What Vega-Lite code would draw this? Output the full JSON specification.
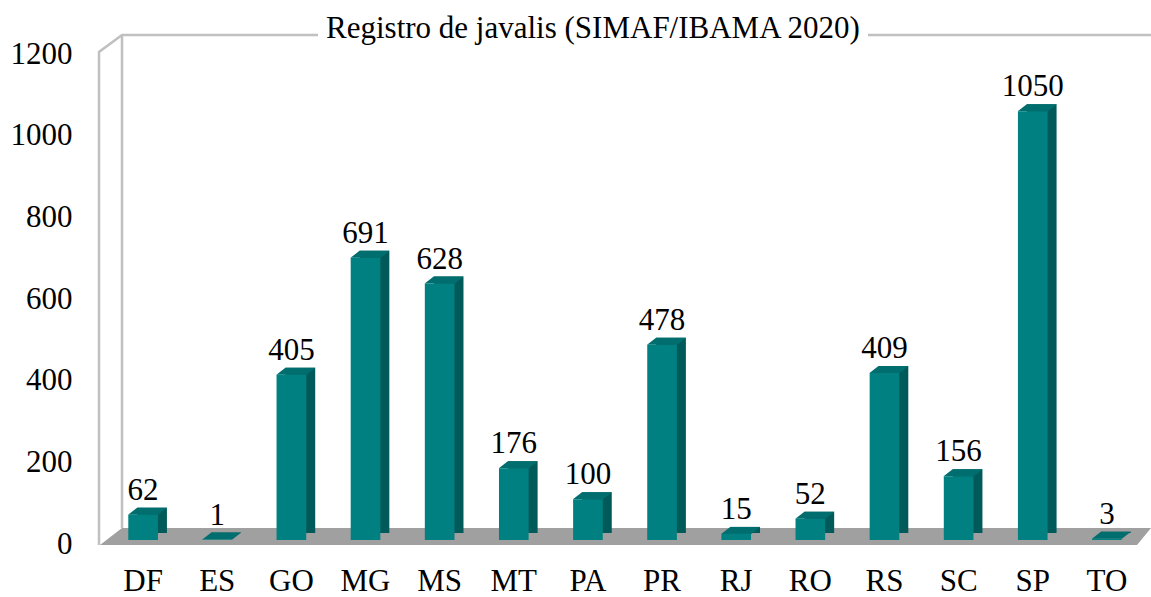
{
  "$schema": "https://vega.github.io/schema/vega-lite/v6.json",
  "width": 1052,
  "height": 490,
  "autosize": {"type": "none"},
  "padding": {"left": 99, "top": 50, "right": 0, "bottom": 57},
  "background": "white",
  "config": {
    "font": "Liberation Serif",
    "view": {"stroke": null}
  },
  "data": {
    "values": [
      {"estado": "DF", "registros": 62},
      {"estado": "ES", "registros": 1},
      {"estado": "GO", "registros": 405},
      {"estado": "MG", "registros": 691},
      {"estado": "MS", "registros": 628},
      {"estado": "MT", "registros": 176},
      {"estado": "PA", "registros": 100},
      {"estado": "PR", "registros": 478},
      {"estado": "RJ", "registros": 15},
      {"estado": "RO", "registros": 52},
      {"estado": "RS", "registros": 409},
      {"estado": "SC", "registros": 156},
      {"estado": "SP", "registros": 1050},
      {"estado": "TO", "registros": 3}
    ]
  },
  "layer": [
    {
      "data": {"values": [{}]},
      "mark": {
        "type": "point",
        "shape": "M -526 5 L -526 -488 L -503 -505 L -307 -505 M 243 -505 L 526 -505 M -503 -505 L -503 -12",
        "size": 4,
        "filled": false,
        "stroke": "#c0c0c0",
        "strokeWidth": 2.5,
        "opacity": 1
      },
      "encoding": {"y": {"datum": 0, "type": "quantitative"}}
    },
    {
      "data": {"values": [{}]},
      "mark": {
        "type": "point",
        "shape": "M -525 5 L 512 5 L 526 -12 L -503 -12 Z",
        "size": 4,
        "filled": true,
        "fill": "#a0a0a0",
        "strokeWidth": 0,
        "opacity": 1
      },
      "encoding": {"y": {"datum": 0, "type": "quantitative"}}
    },
    {
      "data": {"values": [{"titulo": "Registro de javalis (SIMAF/IBAMA 2020)"}]},
      "mark": {"type": "text", "fontSize": 31, "color": "black", "baseline": "alphabetic", "align": "center", "dx": -32, "dy": -12},
      "encoding": {
        "y": {"datum": 1200, "type": "quantitative"},
        "text": {"field": "titulo", "type": "nominal"}
      }
    },
    {
      "mark": {"type": "bar", "color": "#005a5a", "xOffset": 9, "x2Offset": 9, "yOffset": -7, "y2Offset": -7},
      "encoding": {
        "x": {"field": "estado", "type": "nominal"},
        "y": {"field": "registros", "type": "quantitative"}
      }
    },
    {
      "mark": {
        "type": "point",
        "shape": "M -15 0 L -6 -7 L 24 -7 L 15 0 Z",
        "size": 4,
        "filled": true,
        "fill": "#006e6e",
        "strokeWidth": 0,
        "opacity": 1
      },
      "encoding": {
        "x": {"field": "estado", "type": "nominal"},
        "y": {"field": "registros", "type": "quantitative"}
      }
    },
    {
      "mark": {"type": "bar", "color": "#008080"},
      "encoding": {
        "x": {
          "field": "estado",
          "type": "nominal",
          "sort": null,
          "scale": {"paddingInner": 0.6, "paddingOuter": 0.395},
          "axis": {
            "title": null,
            "labelAngle": 0,
            "labelFontSize": 31,
            "labelColor": "black",
            "labelBaseline": "alphabetic",
            "labelPadding": 50,
            "bandPosition": 0.5,
            "labelAlign": "center",
            "domain": false,
            "ticks": false
          }
        },
        "y": {
          "field": "registros",
          "type": "quantitative",
          "scale": {"domain": [0, 1200], "nice": false},
          "axis": {
            "title": null,
            "values": [0, 200, 400, 600, 800, 1000, 1200],
            "format": "d",
            "grid": false,
            "domain": false,
            "ticks": false,
            "labelFontSize": 31,
            "labelColor": "black",
            "labelPadding": 27,
            "labelOffset": 4
          }
        }
      }
    },
    {
      "mark": {"type": "text", "fontSize": 31, "color": "black", "baseline": "alphabetic", "dy": -15},
      "encoding": {
        "x": {"field": "estado", "type": "nominal"},
        "y": {"field": "registros", "type": "quantitative"},
        "text": {"field": "registros", "type": "quantitative"}
      }
    }
  ]
}
